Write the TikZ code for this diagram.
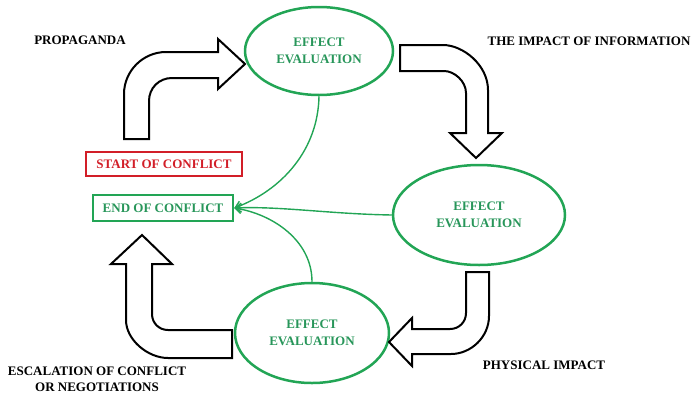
\documentclass[tikz,border=0pt]{standalone}
\usepackage{fontspec}
\setmainfont{Liberation Serif}
\usetikzlibrary{shapes.geometric,arrows.meta}
\definecolor{gline}{RGB}{34,165,85}
\definecolor{gtext}{RGB}{40,150,90}
\definecolor{rbox}{RGB}{210,30,40}
\tikzset{
  lbl/.style={font=\fontsize{13}{16}\selectfont\bfseries, text=black, inner sep=0pt, align=center},
  evalnode/.style={ellipse, draw=gline, line width=2.5pt, inner sep=0pt,
    font=\fontsize{13}{16.5}\selectfont\bfseries, text=gtext, align=center},
  boxnode/.style={rectangle, line width=2.5pt, inner sep=0pt,
    font=\fontsize{13}{16}\selectfont\bfseries},
  blockarrow/.style={draw=black, fill=white, line width=2pt, line join=miter},
  conn/.style={draw=gline, line width=1.4pt, -{Straight Barb[length=6pt,width=9pt]}}
}
\begin{document}
\begin{tikzpicture}[x=1pt,y=-1pt]
\useasboundingbox (0,0) rectangle (692,394);

% ellipses
\node[evalnode, minimum width=148pt, minimum height=88pt] (e1) at (319,51) {EFFECT\\EVALUATION};
\node[evalnode, minimum width=172pt, minimum height=100pt] (e2) at (479,215) {EFFECT\\EVALUATION};
\node[evalnode, minimum width=154pt, minimum height=100pt] (e3) at (312,333) {EFFECT\\EVALUATION};

% boxes
\node[boxnode, draw=rbox, text=rbox, minimum width=156pt, minimum height=24pt] (start) at (164,164) {START OF CONFLICT};
\node[boxnode, draw=gline, text=gtext, minimum width=140pt, minimum height=26pt] (end) at (163,208) {END OF CONFLICT};

% labels
\node[lbl] (lprop) at (80,40) {PROPAGANDA};
\node[lbl] (linfo) at (589,41) {THE IMPACT OF INFORMATION};
\node[lbl] (lphys) at (544,365) {PHYSICAL IMPACT};
\node[lbl] (lesc) at (97,379) {ESCALATION OF CONFLICT\\OR NEGOTIATIONS};

% block arrows
\path[blockarrow] (124,139) -- (124,94) .. controls (124,71) and (143,52) .. (166,52)
  -- (218,52) -- (218,39) -- (245,64) -- (218,89) -- (218,78) -- (172,78)
  .. controls (159,78) and (149,88) .. (149,101) -- (149,139) -- cycle;

\path[blockarrow] (400,45) -- (443,45) .. controls (463,45) and (488,65) .. (488,90)
  -- (488,133) -- (502,133) -- (476,158) -- (450,133) -- (466,133) -- (466,93)
  .. controls (466,81) and (454,71) .. (444,71) -- (400,71) -- cycle;

\path[blockarrow] (489,272) -- (489,316) .. controls (489,337) and (471,354) .. (451,354)
  -- (412,354) -- (412,366) -- (389,342) -- (412,318) -- (412,329) -- (450,329)
  .. controls (459,329) and (466,322) .. (466,313) -- (466,272) -- cycle;

\path[blockarrow] (232,358) -- (168,358) .. controls (148,358) and (126,340) .. (126,320)
  -- (126,264) -- (111,264) -- (142,235) -- (172,264) -- (152,264) -- (152,314)
  .. controls (152,323) and (159,330) .. (168,330) -- (232,330) -- cycle;

% connectors
\draw[conn] (e1.south) .. controls (318,150) and (282,190) .. (end.east);
\draw[conn] (e2.west) .. controls (330,214) and (280,206) .. (end.east);
\draw[conn] (e3.north) .. controls (312,240) and (272,214) .. (end.east);
\end{tikzpicture}
\end{document}
